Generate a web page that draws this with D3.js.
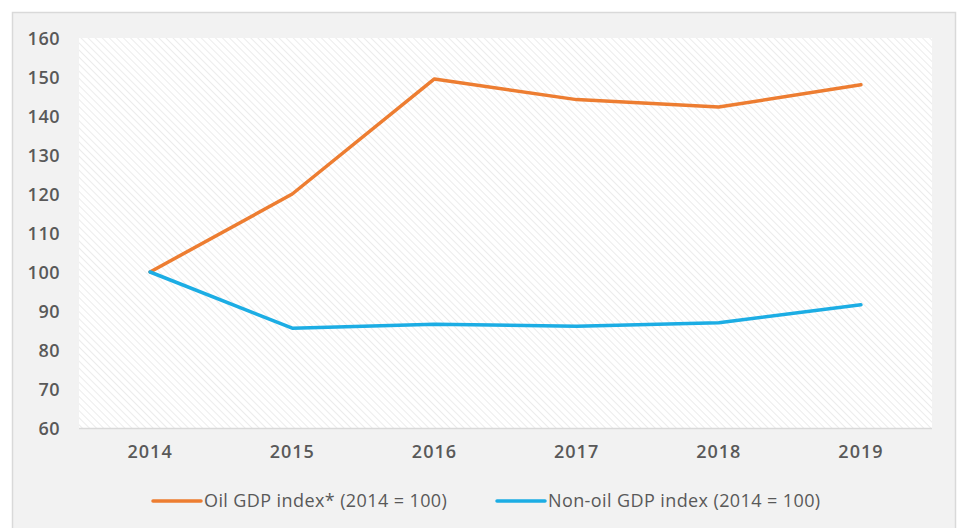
<!DOCTYPE html>
<html><head><meta charset="utf-8">
<script src="https://cdn.jsdelivr.net/npm/d3@7"></script>
<style>body{margin:0;background:#fff;}svg{display:block;}</style>
</head><body>
<svg id="chart" width="960" height="528"></svg>
<script>
const years = ["2014","2015","2016","2017","2018","2019"];
const oilValues = [100, 120, 149.5, 144.2, 142.3, 148];
const nonOilValues = [100, 85.6, 86.6, 86.1, 87.0, 91.6];
const yTicks = [60,70,80,90,100,110,120,130,140,150,160];
const seriesNames = ["Oil GDP index* (2014 = 100)", "Non-oil GDP index (2014 = 100)"];
const seriesColors = ["#ED7D31", "#1CADE4"];

const svg = d3.select("#chart");
const font = "'Open Sans', Lato, sans-serif";
// outer frame
svg.append("rect").attr("x",12.5).attr("y",12.5).attr("width",943).attr("height",530)
  .attr("fill","#f2f2f2").attr("stroke","#d9d9d9").attr("stroke-width",1.5);

const m = {left:79, right:932, top:38, bottom:428};
const x = d3.scaleBand().domain(years).range([m.left, m.right]);
const y = d3.scaleLinear().domain([60,160]).range([m.bottom, m.top]);

const defs = svg.append("defs");
const pat = defs.append("pattern").attr("id","hatch").attr("patternUnits","userSpaceOnUse")
  .attr("width",5).attr("height",5).attr("patternTransform","rotate(-45)");
pat.append("rect").attr("width",5).attr("height",5).attr("fill","#ffffff");
pat.append("line").attr("x1",0).attr("y1",0).attr("x2",0).attr("y2",5)
  .attr("stroke","#ececec").attr("stroke-width",2);

svg.append("rect").attr("x",m.left).attr("y",m.top).attr("width",m.right-m.left).attr("height",m.bottom-m.top)
  .attr("fill","url(#hatch)");

// x axis line
svg.append("line").attr("x1",m.left).attr("x2",m.right).attr("y1",m.bottom+0.5).attr("y2",m.bottom+0.5)
  .attr("stroke","#d9d9d9").attr("stroke-width",1.5);

// y axis
const yAxis = d3.axisLeft(y).tickValues(yTicks).tickSize(0).tickPadding(0);
const gy = svg.append("g").attr("transform",`translate(60,0)`).call(yAxis);
gy.select(".domain").remove();
gy.selectAll("text").attr("font-family",font).attr("font-size",18).attr("font-weight",600)
  .attr("letter-spacing",0.5).attr("fill","#595959").attr("dy","0.36em");

// x axis
const xAxis = d3.axisBottom(x).tickSize(0).tickPadding(0);
const gx = svg.append("g").attr("transform",`translate(0,${m.bottom+17})`).call(xAxis);
gx.select(".domain").remove();
gx.selectAll("text").attr("font-family",font).attr("font-size",18).attr("font-weight",600)
  .attr("letter-spacing",1).attr("fill","#595959").attr("dy","0.71em");

const line = d3.line().x((d,i)=>x(years[i])+x.bandwidth()/2).y(d=>y(d));
[oilValues, nonOilValues].forEach((vals,i)=>{
  svg.append("path").datum(vals).attr("d",line).attr("fill","none")
    .attr("stroke",seriesColors[i]).attr("stroke-width",3.5).attr("stroke-linejoin","round").attr("stroke-linecap","round");
});

// legend
const legendX = [153, 497];
seriesNames.forEach((name,i)=>{
  const g = svg.append("g").attr("transform",`translate(${legendX[i]},501)`);
  g.append("line").attr("x1",0).attr("x2",48).attr("y1",0).attr("y2",0)
    .attr("stroke",seriesColors[i]).attr("stroke-width",3.5).attr("stroke-linecap","round");
  g.append("text").attr("x",51).attr("y",0).attr("dy","0.35em").attr("font-family",font)
    .attr("font-size",18).attr("font-weight",500).attr("letter-spacing",0.4).attr("fill","#595959").text(name);
});
</script>
</body></html>
